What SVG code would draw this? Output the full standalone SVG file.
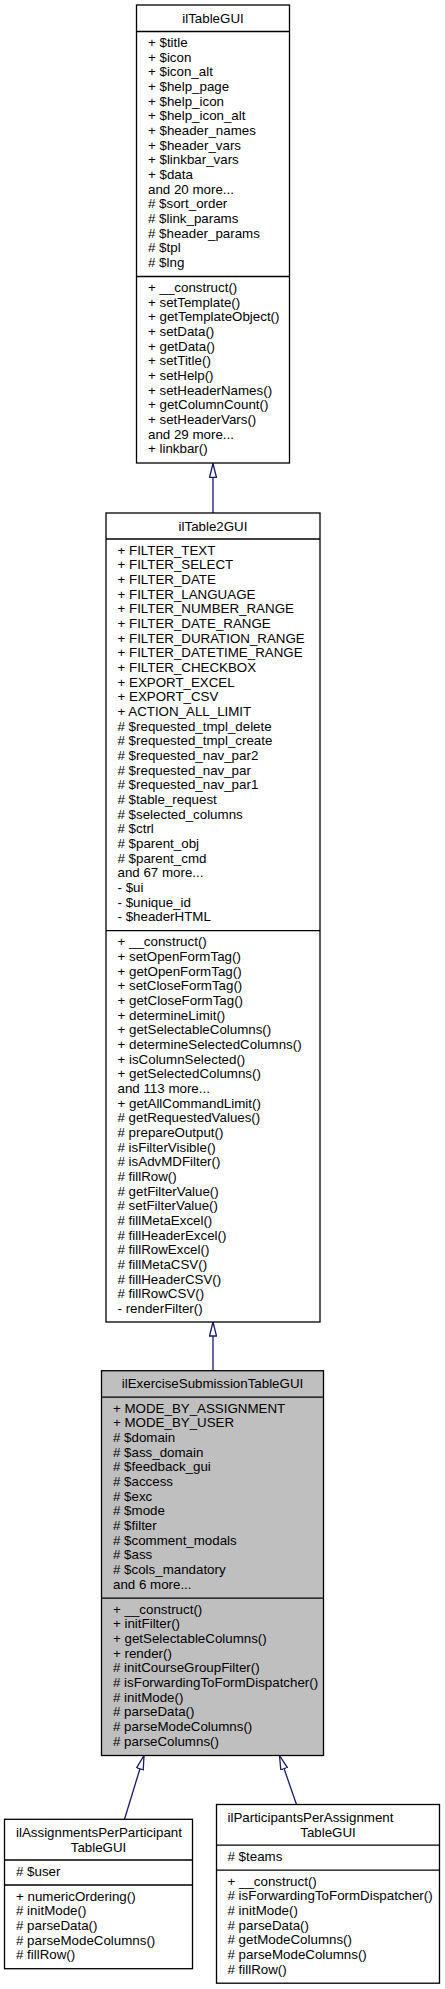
<svg xmlns="http://www.w3.org/2000/svg" width="445" height="1989" viewBox="0 0 445 1989">
<style>
.box{fill:#ffffff;stroke:#000000;stroke-width:1.3}
.sel{fill:#bfbfbf;stroke:#000000;stroke-width:1.3}
.sep{stroke:#000000;stroke-width:1.3}
text{font-family:"Liberation Sans",Arial,Helvetica,sans-serif;font-size:13.33px;fill:#000000}
.c{text-anchor:middle}
.edge{fill:none;stroke:#191970;stroke-width:1.3}
</style>
<defs>
<marker id="inh" viewBox="0 0 15 8" refX="14.5" refY="4" markerWidth="15" markerHeight="8" markerUnits="userSpaceOnUse" orient="auto">
<path d="M0.5,0.5 L14.5,4 L0.5,7.5 Z" fill="#ffffff" stroke="#191970" stroke-width="1.3"/>
</marker>
</defs>
<rect width="445" height="1989" fill="#ffffff"/>

<g id="connectors">
<path class="edge" d="M213,513 L213,463.5" marker-end="url(#inh)"/>
<path class="edge" d="M213,1370.7 L213,1322" marker-end="url(#inh)"/>
<path class="edge" d="M124.5,1819.3 L144,1755.5" marker-end="url(#inh)"/>
<path class="edge" d="M296.5,1804.5 L279.5,1755.5" marker-end="url(#inh)"/>
</g>

<g id="ilTableGUI">
<rect class="box" x="136.5" y="5" width="153" height="458"/>
<line class="sep" x1="136.5" y1="31.5" x2="289.5" y2="31.5"/>
<line class="sep" x1="136.5" y1="276.5" x2="289.5" y2="276.5"/>
<text class="c" x="213" y="22.5">ilTableGUI</text>
<text x="148" y="47">
<tspan x="148" dy="0">+ $title</tspan>
<tspan x="148" dy="14.667">+ $icon</tspan>
<tspan x="148" dy="14.667">+ $icon_alt</tspan>
<tspan x="148" dy="14.667">+ $help_page</tspan>
<tspan x="148" dy="14.667">+ $help_icon</tspan>
<tspan x="148" dy="14.667">+ $help_icon_alt</tspan>
<tspan x="148" dy="14.667">+ $header_names</tspan>
<tspan x="148" dy="14.667">+ $header_vars</tspan>
<tspan x="148" dy="14.667">+ $linkbar_vars</tspan>
<tspan x="148" dy="14.667">+ $data</tspan>
<tspan x="148" dy="14.667">and 20 more...</tspan>
<tspan x="148" dy="14.667"># $sort_order</tspan>
<tspan x="148" dy="14.667"># $link_params</tspan>
<tspan x="148" dy="14.667"># $header_params</tspan>
<tspan x="148" dy="14.667"># $tpl</tspan>
<tspan x="148" dy="14.667"># $lng</tspan>
</text>
<text x="148" y="292">
<tspan x="148" dy="0">+ __construct()</tspan>
<tspan x="148" dy="14.667">+ setTemplate()</tspan>
<tspan x="148" dy="14.667">+ getTemplateObject()</tspan>
<tspan x="148" dy="14.667">+ setData()</tspan>
<tspan x="148" dy="14.667">+ getData()</tspan>
<tspan x="148" dy="14.667">+ setTitle()</tspan>
<tspan x="148" dy="14.667">+ setHelp()</tspan>
<tspan x="148" dy="14.667">+ setHeaderNames()</tspan>
<tspan x="148" dy="14.667">+ getColumnCount()</tspan>
<tspan x="148" dy="14.667">+ setHeaderVars()</tspan>
<tspan x="148" dy="14.667">and 29 more...</tspan>
<tspan x="148" dy="14.667">+ linkbar()</tspan>
</text>
</g>

<g id="ilTable2GUI">
<rect class="box" x="106" y="513" width="214" height="809"/>
<line class="sep" x1="106" y1="539" x2="320" y2="539"/>
<line class="sep" x1="106" y1="930.7" x2="320" y2="930.7"/>
<text class="c" x="213" y="530.5">ilTable2GUI</text>
<text x="117.5" y="554.5">
<tspan x="117.5" dy="0">+ FILTER_TEXT</tspan>
<tspan x="117.5" dy="14.667">+ FILTER_SELECT</tspan>
<tspan x="117.5" dy="14.667">+ FILTER_DATE</tspan>
<tspan x="117.5" dy="14.667">+ FILTER_LANGUAGE</tspan>
<tspan x="117.5" dy="14.667">+ FILTER_NUMBER_RANGE</tspan>
<tspan x="117.5" dy="14.667">+ FILTER_DATE_RANGE</tspan>
<tspan x="117.5" dy="14.667">+ FILTER_DURATION_RANGE</tspan>
<tspan x="117.5" dy="14.667">+ FILTER_DATETIME_RANGE</tspan>
<tspan x="117.5" dy="14.667">+ FILTER_CHECKBOX</tspan>
<tspan x="117.5" dy="14.667">+ EXPORT_EXCEL</tspan>
<tspan x="117.5" dy="14.667">+ EXPORT_CSV</tspan>
<tspan x="117.5" dy="14.667">+ ACTION_ALL_LIMIT</tspan>
<tspan x="117.5" dy="14.667"># $requested_tmpl_delete</tspan>
<tspan x="117.5" dy="14.667"># $requested_tmpl_create</tspan>
<tspan x="117.5" dy="14.667"># $requested_nav_par2</tspan>
<tspan x="117.5" dy="14.667"># $requested_nav_par</tspan>
<tspan x="117.5" dy="14.667"># $requested_nav_par1</tspan>
<tspan x="117.5" dy="14.667"># $table_request</tspan>
<tspan x="117.5" dy="14.667"># $selected_columns</tspan>
<tspan x="117.5" dy="14.667"># $ctrl</tspan>
<tspan x="117.5" dy="14.667"># $parent_obj</tspan>
<tspan x="117.5" dy="14.667"># $parent_cmd</tspan>
<tspan x="117.5" dy="14.667">and 67 more...</tspan>
<tspan x="117.5" dy="14.667">- $ui</tspan>
<tspan x="117.5" dy="14.667">- $unique_id</tspan>
<tspan x="117.5" dy="14.667">- $headerHTML</tspan>
</text>
<text x="117.5" y="946.2">
<tspan x="117.5" dy="0">+ __construct()</tspan>
<tspan x="117.5" dy="14.667">+ setOpenFormTag()</tspan>
<tspan x="117.5" dy="14.667">+ getOpenFormTag()</tspan>
<tspan x="117.5" dy="14.667">+ setCloseFormTag()</tspan>
<tspan x="117.5" dy="14.667">+ getCloseFormTag()</tspan>
<tspan x="117.5" dy="14.667">+ determineLimit()</tspan>
<tspan x="117.5" dy="14.667">+ getSelectableColumns()</tspan>
<tspan x="117.5" dy="14.667">+ determineSelectedColumns()</tspan>
<tspan x="117.5" dy="14.667">+ isColumnSelected()</tspan>
<tspan x="117.5" dy="14.667">+ getSelectedColumns()</tspan>
<tspan x="117.5" dy="14.667">and 113 more...</tspan>
<tspan x="117.5" dy="14.667">+ getAllCommandLimit()</tspan>
<tspan x="117.5" dy="14.667"># getRequestedValues()</tspan>
<tspan x="117.5" dy="14.667"># prepareOutput()</tspan>
<tspan x="117.5" dy="14.667"># isFilterVisible()</tspan>
<tspan x="117.5" dy="14.667"># isAdvMDFilter()</tspan>
<tspan x="117.5" dy="14.667"># fillRow()</tspan>
<tspan x="117.5" dy="14.667"># getFilterValue()</tspan>
<tspan x="117.5" dy="14.667"># setFilterValue()</tspan>
<tspan x="117.5" dy="14.667"># fillMetaExcel()</tspan>
<tspan x="117.5" dy="14.667"># fillHeaderExcel()</tspan>
<tspan x="117.5" dy="14.667"># fillRowExcel()</tspan>
<tspan x="117.5" dy="14.667"># fillMetaCSV()</tspan>
<tspan x="117.5" dy="14.667"># fillHeaderCSV()</tspan>
<tspan x="117.5" dy="14.667"># fillRowCSV()</tspan>
<tspan x="117.5" dy="14.667">- renderFilter()</tspan>
</text>
</g>

<g id="ilExerciseSubmissionTableGUI">
<rect class="sel" x="101.5" y="1370.7" width="222" height="384.8"/>
<line class="sep" x1="101.5" y1="1397.2" x2="323.5" y2="1397.2"/>
<line class="sep" x1="101.5" y1="1598.2" x2="323.5" y2="1598.2"/>
<text class="c" x="212.5" y="1388.2">ilExerciseSubmissionTableGUI</text>
<text x="113" y="1412.7">
<tspan x="113" dy="0">+ MODE_BY_ASSIGNMENT</tspan>
<tspan x="113" dy="14.667">+ MODE_BY_USER</tspan>
<tspan x="113" dy="14.667"># $domain</tspan>
<tspan x="113" dy="14.667"># $ass_domain</tspan>
<tspan x="113" dy="14.667"># $feedback_gui</tspan>
<tspan x="113" dy="14.667"># $access</tspan>
<tspan x="113" dy="14.667"># $exc</tspan>
<tspan x="113" dy="14.667"># $mode</tspan>
<tspan x="113" dy="14.667"># $filter</tspan>
<tspan x="113" dy="14.667"># $comment_modals</tspan>
<tspan x="113" dy="14.667"># $ass</tspan>
<tspan x="113" dy="14.667"># $cols_mandatory</tspan>
<tspan x="113" dy="14.667">and 6 more...</tspan>
</text>
<text x="113" y="1613.7">
<tspan x="113" dy="0">+ __construct()</tspan>
<tspan x="113" dy="14.667">+ initFilter()</tspan>
<tspan x="113" dy="14.667">+ getSelectableColumns()</tspan>
<tspan x="113" dy="14.667">+ render()</tspan>
<tspan x="113" dy="14.667"># initCourseGroupFilter()</tspan>
<tspan x="113" dy="14.667"># isForwardingToFormDispatcher()</tspan>
<tspan x="113" dy="14.667"># initMode()</tspan>
<tspan x="113" dy="14.667"># parseData()</tspan>
<tspan x="113" dy="14.667"># parseModeColumns()</tspan>
<tspan x="113" dy="14.667"># parseColumns()</tspan>
</text>
</g>

<g id="ilAssignmentsPerParticipantTableGUI">
<rect class="box" x="4.5" y="1819.3" width="188" height="149.4"/>
<line class="sep" x1="4.5" y1="1860" x2="192.5" y2="1860"/>
<line class="sep" x1="4.5" y1="1885" x2="192.5" y2="1885"/>
<text x="16" y="1836.8">ilAssignmentsPerParticipant</text>
<text class="c" x="98.5" y="1851.5">TableGUI</text>
<text x="16" y="1875.5"># $user</text>
<text x="16" y="1900.5">
<tspan x="16" dy="0">+ numericOrdering()</tspan>
<tspan x="16" dy="14.667"># initMode()</tspan>
<tspan x="16" dy="14.667"># parseData()</tspan>
<tspan x="16" dy="14.667"># parseModeColumns()</tspan>
<tspan x="16" dy="14.667"># fillRow()</tspan>
</text>
</g>

<g id="ilParticipantsPerAssignmentTableGUI">
<rect class="box" x="216.5" y="1804.5" width="223" height="178.7"/>
<line class="sep" x1="216.5" y1="1845.2" x2="439.5" y2="1845.2"/>
<line class="sep" x1="216.5" y1="1870.2" x2="439.5" y2="1870.2"/>
<text x="227.5" y="1822">ilParticipantsPerAssignment</text>
<text class="c" x="328" y="1836.7">TableGUI</text>
<text x="227.5" y="1860.7"># $teams</text>
<text x="227.5" y="1885.7">
<tspan x="227.5" dy="0">+ __construct()</tspan>
<tspan x="227.5" dy="14.667"># isForwardingToFormDispatcher()</tspan>
<tspan x="227.5" dy="14.667"># initMode()</tspan>
<tspan x="227.5" dy="14.667"># parseData()</tspan>
<tspan x="227.5" dy="14.667"># getModeColumns()</tspan>
<tspan x="227.5" dy="14.667"># parseModeColumns()</tspan>
<tspan x="227.5" dy="14.667"># fillRow()</tspan>
</text>
</g>
</svg>
